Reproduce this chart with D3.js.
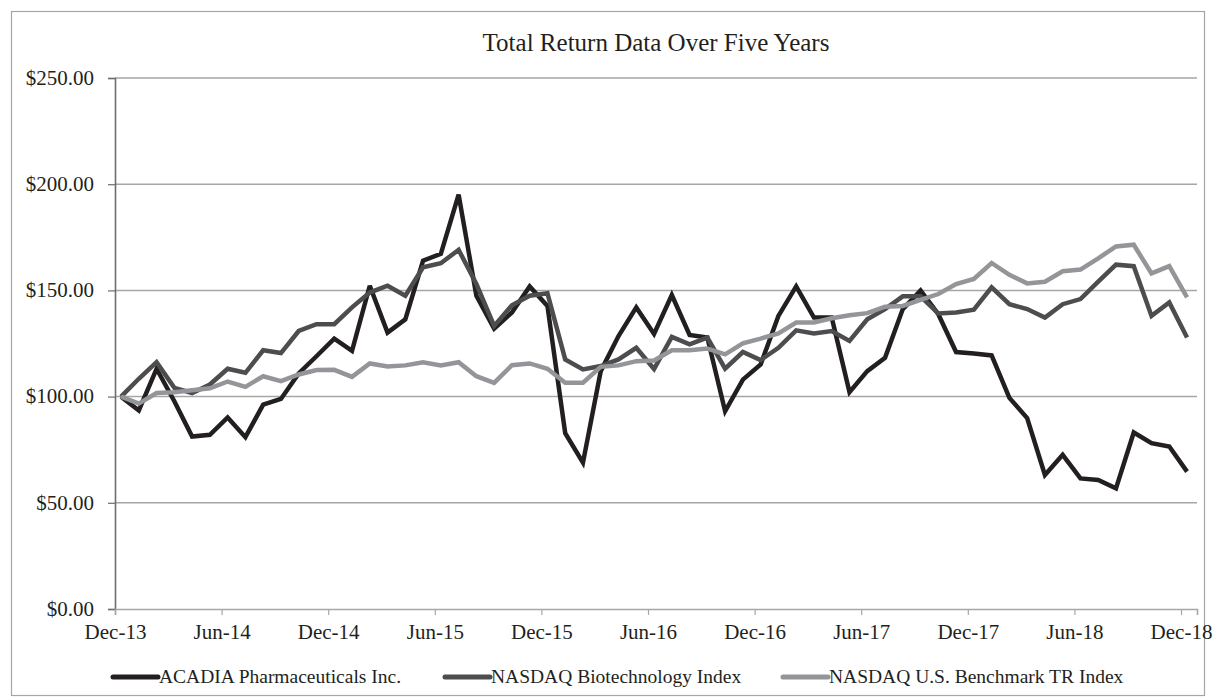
<!DOCTYPE html>
<html>
<head>
<meta charset="utf-8">
<script src="https://cdn.jsdelivr.net/npm/d3@7"></script>
<style>
  body { margin: 0; background: #fff; }
  svg { display: block; font-family: "Liberation Serif", "Times New Roman", serif; }
</style>
</head>
<body>
<div id="chart"></div>
<script>
// ------------------------------------------------------------
// Data (monthly, Dec-13 .. Dec-18, indexed to $100)
// ------------------------------------------------------------
const tickLabels = ["Dec-13", "Jun-14", "Dec-14", "Jun-15", "Dec-15", "Jun-16",
  "Dec-16", "Jun-17", "Dec-17", "Jun-18", "Dec-18"];

const seriesNames = ["ACADIA Pharmaceuticals Inc.", "NASDAQ Biotechnology Index", "NASDAQ U.S. Benchmark TR Index"];

const acadia = [100, 93.5, 113.1, 97.8, 81.2, 82, 90.2, 80.9, 96.2, 98.9, 110.9, 119, 127.3, 121.5, 152.2,
  130.1, 136.4, 164, 167.2, 195.1, 147.5, 132, 139.6, 151.9, 142.7, 82.8, 68.9, 112, 128.5, 142,
  129.5, 147.8, 129, 127.8, 93.1, 108, 115.1, 138, 151.9, 137.2, 137.2, 102.1, 112, 118.3, 141.2,
  150, 138.8, 121, 120.3, 119.4, 99.4, 89.9, 63.1, 72.6, 61.5, 60.7, 56.8, 83.1, 78.1, 76.5, 64.7];

const biotech = [100, 108.4, 116.2, 104.1, 101.7, 105.7, 113.1, 111.2, 121.8, 120.5, 130.9, 134.1, 134.1, 142, 149,
  152.2, 147.5, 160.9, 162.8, 169.1, 153, 133.3, 143, 147.5, 148.7, 117.5, 112.8, 114.4, 117.5, 123,
  113, 128.1, 124.6, 127.8, 113.2, 121, 117.2, 123, 131.2, 129.7, 130.9, 126.2, 136.4, 141.2, 147.2,
  147.2, 139.1, 139.6, 140.9, 151.4, 143.5, 141.2, 137.2, 143.5, 145.9, 154.1, 162.1, 161.4, 138, 144.3, 127.8];

const nasdaqUS = [100, 96.7, 101.7, 102, 103, 103.9, 107.1, 104.6, 109.6, 107.3, 110.4, 112.5, 112.6, 109.3, 115.6,
  114.2, 114.7, 116.2, 114.7, 116.2, 109.6, 106.5, 114.8, 115.6, 113.1, 106.5, 106.5, 114, 114.7, 116.7,
  117, 121.8, 121.8, 122.6, 119.9, 125.1, 127.3, 129.8, 134.9, 134.9, 136.9, 138.3, 139.3, 142.3, 142.7,
  145.5, 148.3, 153, 155.4, 162.9, 157.3, 153.3, 154.1, 159, 159.8, 165.1, 170.7, 171.5, 158, 161.4, 146.7];

const yTicks = [0, 50, 100, 150, 200, 250];
const colors = ["#231f20", "#4d4d4f", "#939598"];

// ------------------------------------------------------------
// Layout
// ------------------------------------------------------------
const width = 1213, height = 700;
const margin = { top: 78, right: 16, bottom: 91, left: 115 };
const pointOffset = 0.34;   // points sit a little after the month tick (date axis)

const svg = d3.select("#chart").append("svg")
  .attr("width", width)
  .attr("height", height);

// outer chart border
svg.append("rect")
  .attr("x", 11.5).attr("y", 11.5)
  .attr("width", 1193).attr("height", 684)
  .attr("fill", "none")
  .attr("stroke", "#a6a6a6")
  .attr("stroke-width", 1.2);

const x = d3.scaleLinear()
  .domain([0, 60.9])
  .range([margin.left, width - margin.right]);

const y = d3.scaleLinear()
  .domain([0, 250])
  .range([height - margin.bottom, margin.top]);

// Gridlines
svg.append("g")
  .selectAll("line")
  .data(yTicks.filter(d => d > 0))
  .join("line")
  .attr("x1", x(0)).attr("x2", x(60.9))
  .attr("y1", d => y(d)).attr("y2", d => y(d))
  .attr("stroke", "#a6a6a6")
  .attr("stroke-width", 1.5);

// Y axis
const yAxis = svg.append("g")
  .attr("transform", `translate(${margin.left},0)`)
  .call(d3.axisLeft(y).tickValues(yTicks).tickSize(7).tickPadding(14)
    .tickFormat(d => "$" + d.toFixed(2)));
yAxis.select(".domain").attr("stroke", "#6d6d6d").attr("stroke-width", 1.6);
yAxis.selectAll(".tick line").attr("stroke", "#6d6d6d").attr("stroke-width", 1.2);
yAxis.selectAll(".tick text")
  .attr("font-size", 21)
  .attr("font-family", "Liberation Serif")
  .attr("fill", "#231f20")
  .attr("dy", "0.3em");

// X axis
const xAxis = svg.append("g")
  .attr("transform", `translate(0,${y(0)})`)
  .call(d3.axisBottom(x).tickValues(d3.range(0, 61, 6)).tickSize(6).tickPadding(9)
    .tickFormat((d, i) => tickLabels[i]));
xAxis.select(".domain").attr("stroke", "#a6a6a6").attr("stroke-width", 1.6);
xAxis.selectAll(".tick line").attr("stroke", "#a6a6a6").attr("stroke-width", 1.2);
xAxis.selectAll(".tick text")
  .attr("font-size", 21)
  .attr("font-family", "Liberation Serif")
  .attr("fill", "#231f20");

// Title
svg.append("text")
  .attr("x", (x(0) + x(60.9)) / 2)
  .attr("y", 51)
  .attr("text-anchor", "middle")
  .attr("font-size", 25)
  .attr("fill", "#231f20")
  .text("Total Return Data Over Five Years");

// Lines
const line = d3.line()
  .x((d, i) => x(i + pointOffset))
  .y(d => y(d));

[acadia, biotech, nasdaqUS].forEach((values, k) => {
  svg.append("path")
    .datum(values)
    .attr("fill", "none")
    .attr("stroke", colors[k])
    .attr("stroke-width", 4.5)
    .attr("stroke-linejoin", "miter")
    .attr("stroke-miterlimit", 3)
    .attr("d", line);
});

// Legend
const legendX = [113, 445, 783];
const legend = svg.append("g");
seriesNames.forEach((name, k) => {
  const g = legend.append("g").attr("transform", `translate(${legendX[k]},677)`);
  g.append("line")
    .attr("x1", 0).attr("x2", 45)
    .attr("stroke", colors[k])
    .attr("stroke-width", 5)
    .attr("stroke-linecap", "round");
  g.append("text")
    .attr("x", 46)
    .attr("dy", "0.33em")
    .attr("font-size", 19.5)
    .attr("fill", "#231f20")
    .text(name);
});
</script>
</body>
</html>
